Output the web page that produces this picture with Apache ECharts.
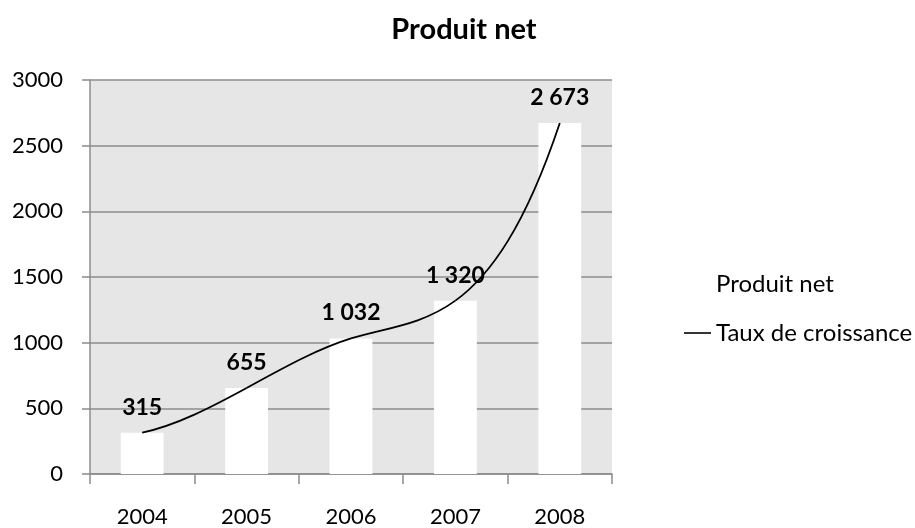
<!DOCTYPE html>
<html>
<head>
<meta charset="utf-8">
<script src="https://cdn.jsdelivr.net/npm/echarts@6/dist/echarts.min.js"></script>
<style>
  html, body { margin: 0; padding: 0; background: #fff; }
  #chart { width: 915px; height: 528px; }
</style>
</head>
<body>
<div id="chart"></div>
<script>
// Produit net, 2004-2008
const years = ['2004', '2005', '2006', '2007', '2008'];
const produitNet = [315, 655, 1032, 1320, 2673];
const tauxCroissance = [315, 655, 1032, 1320, 2673];
const yTicks = [0, 500, 1000, 1500, 2000, 2500, 3000];

const FONT = 'Lato, "Open Sans", sans-serif';

// Thousands separated by a space, French style
function fmt(v) {
  return String(v).replace(/\B(?=(\d{3})+(?!\d))/g, ' ');
}

// Not-a-knot cubic spline slopes over evenly spaced points (step 1)
function splineSlopes(y) {
  const n = y.length;
  const A = [], b = [];
  for (let i = 0; i < n; i++) { A.push(new Array(n).fill(0)); b.push(0); }
  A[0][0] = 1; A[0][1] = -2; A[0][2] = 1;
  for (let i = 1; i < n - 1; i++) {
    A[i][i - 1] = 1; A[i][i] = 4; A[i][i + 1] = 1;
    b[i] = 6 * (y[i + 1] - 2 * y[i] + y[i - 1]);
  }
  A[n - 1][n - 3] = 1; A[n - 1][n - 2] = -2; A[n - 1][n - 1] = 1;
  // Gaussian elimination with partial pivoting
  for (let c = 0; c < n; c++) {
    let p = c;
    for (let r = c + 1; r < n; r++) if (Math.abs(A[r][c]) > Math.abs(A[p][c])) p = r;
    [A[c], A[p]] = [A[p], A[c]]; [b[c], b[p]] = [b[p], b[c]];
    for (let r = c + 1; r < n; r++) {
      const f = A[r][c] / A[c][c];
      for (let k = c; k < n; k++) A[r][k] -= f * A[c][k];
      b[r] -= f * b[c];
    }
  }
  const M = new Array(n).fill(0);
  for (let r = n - 1; r >= 0; r--) {
    let s = b[r];
    for (let k = r + 1; k < n; k++) s -= A[r][k] * M[k];
    M[r] = s / A[r][r];
  }
  const s = [];
  for (let i = 0; i < n - 1; i++) s.push((y[i + 1] - y[i]) - (2 * M[i] + M[i + 1]) / 6);
  s.push((y[n - 1] - y[n - 2]) + (M[n - 2] + 2 * M[n - 1]) / 6);
  return s;
}

// One item per curve segment: [index, start value, end value, start slope, end slope]
const slopes = splineSlopes(tauxCroissance);
const curveSegments = tauxCroissance.slice(0, -1).map((v, i) =>
  [i, v, tauxCroissance[i + 1], slopes[i], slopes[i + 1]]);

const chart = echarts.init(document.getElementById('chart'));
chart.setOption({
  animation: false,
  backgroundColor: '#ffffff',
  textStyle: { fontFamily: FONT },
  title: {
    text: 'Produit net',
    left: 459,
    top: 10,
    textAlign: 'center',
    textStyle: { fontFamily: FONT, fontSize: 29, fontWeight: 'bold', color: '#000' }
  },
  legend: {
    orient: 'vertical',
    left: 679,
    top: 267,
    itemWidth: 27,
    itemHeight: 12,
    itemGap: 25,
    textStyle: { fontFamily: FONT, fontSize: 24, color: '#000' },
    data: [
      { name: 'Produit net', icon: 'rect', itemStyle: { color: '#ffffff' } },
      { name: 'Taux de croissance', icon: 'path://M0,0 L27,0 L27,1.6 L0,1.6 Z', itemStyle: { color: '#000' } }
    ]
  },
  grid: {
    left: 90, right: 303, top: 80, bottom: 52,
    show: true, backgroundColor: '#e6e6e6', borderWidth: 0
  },
  xAxis: {
    type: 'category',
    data: years,
    boundaryGap: true,
    axisLine: { lineStyle: { color: '#8c8c8c', width: 1.5 } },
    axisTick: { show: true, length: 10, alignWithLabel: false, lineStyle: { color: '#8c8c8c', width: 1.5 } },
    axisLabel: { margin: 32, fontFamily: FONT, fontSize: 22, color: '#000' }
  },
  yAxis: {
    type: 'value',
    min: yTicks[0], max: yTicks[yTicks.length - 1], interval: yTicks[1] - yTicks[0],
    axisLine: { show: true, lineStyle: { color: '#8c8c8c', width: 1.5 } },
    axisTick: { show: true, length: 8, lineStyle: { color: '#8c8c8c', width: 1.5 } },
    axisLabel: { margin: 27, fontFamily: FONT, fontSize: 22, color: '#000', formatter: v => String(v) },
    splitLine: { show: true, lineStyle: { color: '#8c8c8c', width: 1.5 } }
  },
  series: [
    {
      name: 'Produit net',
      type: 'bar',
      data: produitNet,
      barWidth: '41%',
      itemStyle: { color: '#ffffff' },
      label: {
        show: true,
        position: 'top',
        distance: 14,
        formatter: p => fmt(p.value),
        fontFamily: FONT, fontSize: 23, fontWeight: 'bold', color: '#000'
      },
      z: 2
    },
    {
      name: 'Taux de croissance',
      type: 'custom',
      data: curveSegments,
      encode: { x: 0, y: [1, 2] },
      itemStyle: { color: '#000' },
      z: 3,
      renderItem: function (params, api) {
        const i = api.value(0);
        const v0 = api.value(1), v1 = api.value(2);
        const s0 = api.value(3), s1 = api.value(4);
        const a = api.coord([i, v0]);
        const b = api.coord([i + 1, v1]);
        const c1 = api.coord([i, v0 + s0 / 3])[1];
        const c2 = api.coord([i, v1 - s1 / 3])[1];
        const dx = b[0] - a[0];
        return {
          type: 'bezierCurve',
          shape: {
            x1: a[0], y1: a[1], x2: b[0], y2: b[1],
            cpx1: a[0] + dx / 3, cpy1: c1,
            cpx2: a[0] + 2 * dx / 3, cpy2: c2
          },
          style: { stroke: '#000', lineWidth: 1.8, fill: null }
        };
      }
    }
  ]
});
</script>
</body>
</html>
